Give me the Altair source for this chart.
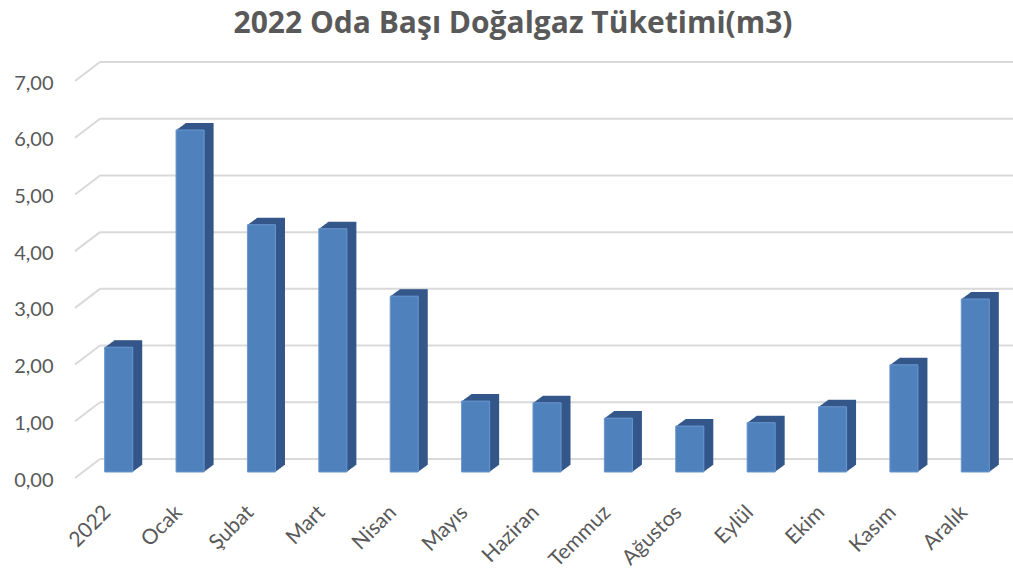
import altair as alt
import pandas as pd

categories = ["2022", "Ocak", "Şubat", "Mart", "Nisan", "Mayıs", "Haziran",
              "Temmuz", "Ağustos", "Eylül", "Ekim", "Kasım", "Aralık"]
values = [2.20, 6.03, 4.36, 4.29, 3.10, 1.25, 1.22, 0.95, 0.81, 0.87, 1.15, 1.89, 3.05]
grid_values = [0, 1, 2, 3, 4, 5, 6, 7]
title_text = "2022 Oda Başı Doğalgaz Tüketimi(m3)"

df = pd.DataFrame({"ay": categories, "deger": values})
gdf = pd.DataFrame({"v": grid_values})
tdf = pd.DataFrame({"t": [title_text]})

W, H = 928, 397
FONT = "Lato"
TXT = "#595959"

yscale = alt.Scale(domain=[0, 7], nice=False, zero=True)
xscale = alt.Scale(domain=categories, paddingInner=0.607, paddingOuter=0.3035)

y_axis = alt.Axis(values=grid_values, domain=False, ticks=False, grid=False,
                  labelPadding=30, labelOffset=8, labelFont=FONT, labelFontSize=20,
                  labelColor=TXT,
                  labelExpr="replace(format(datum.value, '.2f'), '.', ',')")
x_axis = alt.Axis(domain=False, ticks=False, grid=False, labelAngle=-45,
                  labelAlign="right", labelBaseline="middle", labelPadding=37,
                  labelOffset=-11,
                  labelFont=FONT, labelFontSize=21, labelColor=TXT)

# back-wall gridlines
grid_back = alt.Chart(gdf).mark_rule(color="#d9d9d9", strokeWidth=2, yOffset=-13).encode(
    y=alt.Y("v:Q", scale=yscale, title=None, axis=y_axis),
    x=alt.value(17), x2=alt.value(W + 2),
)
# floor / side diagonal gridlines
grid_diag = alt.Chart(gdf).mark_rule(color="#d9d9d9", strokeWidth=2, yOffset=6, y2Offset=-13).encode(
    y=alt.Y("v:Q", scale=yscale),
    y2=alt.Y2("v"),
    x=alt.value(-8), x2=alt.value(17),
)

# 3D depth layers (side + top faces)
DX, DY, N = 9.5, -7.0, 12
depth_layers = []
for k in range(N, 0, -1):
    depth_layers.append(
        alt.Chart(df).mark_bar(color="#34578a", xOffset=DX * k / N, yOffset=DY * k / N).encode(
            x=alt.X("ay:N", scale=xscale, sort=categories, title=None, axis=x_axis),
            y=alt.Y("deger:Q", scale=yscale),
        )
    )

front = alt.Chart(df).mark_bar(color="#4f81bd", stroke="#6a97cf", strokeWidth=1).encode(
    x=alt.X("ay:N", scale=xscale, sort=categories),
    y=alt.Y("deger:Q", scale=yscale),
)

title_mark = alt.Chart(tdf).mark_text(font="Open Sans", fontSize=30, fontWeight="bold", color=TXT,
                                      align="center", baseline="alphabetic").encode(
    text="t:N", x=alt.value(513 - 83), y=alt.value(33 - 75),
)

chart = alt.layer(grid_back, grid_diag, *depth_layers, front, title_mark).properties(
    width=W, height=H,
    background="white",
    padding={"left": 83, "top": 75, "right": 2, "bottom": 98},
    autosize=alt.AutoSizeParams(type="none"),
).configure_view(strokeWidth=0, stroke="transparent")

chart.save("out.html", embed_options={"renderer": "svg", "actions": False})
